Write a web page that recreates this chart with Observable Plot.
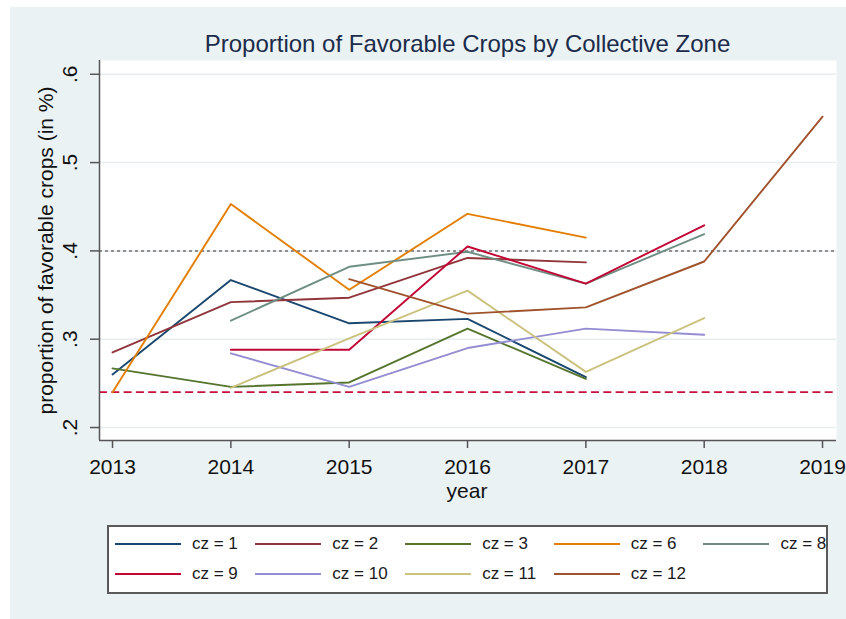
<!DOCTYPE html>
<html>
<head>
<meta charset="utf-8">
<script src="https://cdn.jsdelivr.net/npm/d3@7"></script>
<script src="https://cdn.jsdelivr.net/npm/@observablehq/plot@0.6"></script>
<style>
  body { margin: 0; background: #ffffff; font-family: "Liberation Sans", Arial, sans-serif; }
  #page { position: relative; width: 846px; height: 619px; overflow: hidden; }
  #bg { position: absolute; left: 10px; top: 7px; width: 836px; height: 612px; background: #eaf2f3; }
  #title { position: absolute; left: 99px; width: 737px; top: 32px; line-height: 24px; text-align: center; font-size: 24px; color: #1c2b4a; white-space: nowrap; }
  #chart { position: absolute; left: 0; top: 0; }
  #xlabel { position: absolute; left: 267px; width: 400px; top: 480px; line-height: 21px; font-size: 21px; text-align: center; color: #111; }
  #ylabel { position: absolute; left: -155px; width: 400px; top: 239.5px; line-height: 21px; font-size: 21px; text-align: center; color: #111; transform: rotate(-90deg); transform-origin: 50% 50%; white-space: nowrap; }
  #legend { position: absolute; left: 107px; top: 525px; width: 721px; height: 69px; box-sizing: border-box; border: 2px solid #5a5a5a; background: #ffffff; padding: 2px 0 0 6px; display: grid; grid-template-columns: repeat(5, max-content); grid-auto-rows: 30px; column-gap: 17.5px; }
  .item { display: flex; align-items: center; font-size: 17px; color: #1a1a1a; white-space: nowrap; }
  .sw { width: 66px; height: 2px; margin-right: 11px; }
</style>
</head>
<body>
<div id="page">
  <div id="bg"></div>
  <div id="title"></div>
  <div id="chart"></div>
  <div id="xlabel"></div>
  <div id="ylabel"></div>
  <div id="legend"></div>
</div>
<script>
const titleText = "Proportion of Favorable Crops by Collective Zone";
const xLabel = "year";
const yLabel = "proportion of favorable crops (in %)";

const years = [2013, 2014, 2015, 2016, 2017, 2018, 2019];
const yTicks = [0.2, 0.3, 0.4, 0.5, 0.6];
const yTickLabels = [".2", ".3", ".4", ".5", ".6"];

const czLabels = ["cz = 1", "cz = 2", "cz = 3", "cz = 6", "cz = 8", "cz = 9", "cz = 10", "cz = 11", "cz = 12"];
const czColors = ["#1a476f", "#90353b", "#55752f", "#e37e00", "#6e8e84", "#c10534", "#938dd2", "#cac27e", "#a0522d"];

const cz1  = [0.260, 0.367, 0.318, 0.323, 0.257, null, null];
const cz2  = [0.285, 0.342, 0.347, 0.392, 0.387, null, null];
const cz3  = [0.267, 0.246, 0.251, 0.312, 0.255, null, null];
const cz6  = [0.240, 0.453, 0.356, 0.442, 0.415, null, null];
const cz8  = [null, 0.321, 0.382, 0.399, 0.363, 0.419, null];
const cz9  = [null, 0.288, 0.288, 0.405, 0.363, 0.429, null];
const cz10 = [null, 0.284, 0.246, 0.290, 0.312, 0.305, null];
const cz11 = [null, 0.245, 0.301, 0.355, 0.263, 0.324, null];
const cz12 = [null, null, 0.368, 0.329, 0.336, 0.388, 0.552];

const dottedRef = [0.4];
const dashedRef = [0.24];

const xDomain = [2012.89, 2019.118];
const yDomain = [0.1853, 0.6156];

const series = [cz1, cz2, cz3, cz6, cz8, cz9, cz10, cz11, cz12];
const rows = [];
series.forEach((vals, s) => {
  vals.forEach((v, i) => {
    if (v != null) rows.push({ year: years[i], value: v, cz: czLabels[s] });
  });
});

document.getElementById("title").textContent = titleText;
document.getElementById("xlabel").textContent = xLabel;
document.getElementById("ylabel").textContent = yLabel;

const axisColor = "#555555";
const chart = Plot.plot({
  width: 846,
  height: 510,
  marginLeft: 99,
  marginRight: 10,
  marginTop: 60,
  marginBottom: 70,
  x: { domain: xDomain, label: null },
  y: { domain: yDomain, label: null },
  color: { type: "ordinal", domain: czLabels, range: czColors },
  style: { background: "transparent", fontFamily: "'Liberation Sans', Arial, sans-serif", color: "#111" },
  marks: [
    Plot.frame({ fill: "white", stroke: null }),
    Plot.ruleY(yTicks, { stroke: "#e6eef1", strokeWidth: 1.5 }),
    Plot.ruleY(dottedRef, { stroke: "#8f8f8f", strokeWidth: 2, strokeDasharray: "3,3" }),
    Plot.ruleY(dashedRef, { stroke: "#c8103e", strokeWidth: 1.8, strokeDasharray: "8,4.3" }),
    Plot.line(rows, { x: "year", y: "value", z: "cz", stroke: "cz", strokeWidth: 1.9 }),
    Plot.ruleX([xDomain[0]], { stroke: axisColor, strokeWidth: 1.5 }),
    Plot.ruleY([yDomain[0]], { stroke: axisColor, strokeWidth: 1.5 }),
    Plot.axisX(years, {
      tickSize: 8, tickPadding: 11, stroke: axisColor, strokeWidth: 1.5, fill: "#111",
      fontSize: 21, tickFormat: d => String(d), label: null
    }),
    Plot.axisY(yTicks, {
      tickSize: 9, tickPadding: 14, tickRotate: -90, stroke: axisColor, strokeWidth: 1.5, fill: "#111",
      fontSize: 21, tickFormat: d => yTickLabels[yTicks.indexOf(d)], label: null
    })
  ]
});
document.getElementById("chart").appendChild(chart);

const legend = document.getElementById("legend");
czLabels.forEach((lab, i) => {
  const item = document.createElement("div");
  item.className = "item";
  const sw = document.createElement("span");
  sw.className = "sw";
  sw.style.background = czColors[i];
  const tx = document.createElement("span");
  tx.textContent = lab;
  item.appendChild(sw);
  item.appendChild(tx);
  legend.appendChild(item);
});
</script>
</body>
</html>
